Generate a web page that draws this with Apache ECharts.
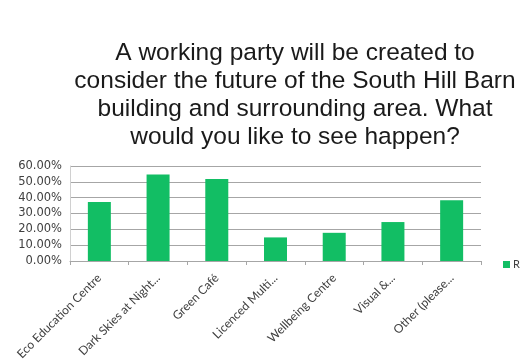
<!DOCTYPE html>
<html>
<head>
<meta charset="utf-8">
<script src="https://cdn.jsdelivr.net/npm/echarts@6/dist/echarts.min.js"></script>
<style>
  html, body { margin: 0; padding: 0; background: #fff; }
  #chart { width: 520px; height: 364px; }
</style>
</head>
<body>
<div id="chart"></div>
<script>
// Survey answers and share of respondents choosing each option (%)
const categories = [
  'Eco Education Centre',
  'Dark Skies at Night...',
  'Green Café',
  'Licenced Multi...',
  'Wellbeing Centre',
  'Visual &...',
  'Other (please...'
];
const responses = [37.3, 54.6, 51.8, 14.9, 17.8, 24.6, 38.4];
const seriesName = 'Responses';
const titleLines = [
  'A working party will be created to',
  'consider the future of the South Hill Barn',
  'building and surrounding area. What',
  'would you like to see happen?'
];

const chart = echarts.init(document.getElementById('chart'), null, { renderer: 'canvas' });
chart.setOption({
  backgroundColor: '#ffffff',
  animation: false,
  title: {
    text: titleLines.join('\n'),
    left: 290,
    top: 34,
    textAlign: 'center',
    textStyle: {
      fontFamily: 'Liberation Sans',
      fontWeight: 'normal',
      fontSize: 24.5,
      lineHeight: 28,
      color: '#1a1a1a'
    }
  },
  legend: {
    show: true,
    left: 498,
    top: 254,
    itemWidth: 7,
    itemHeight: 7,
    itemGap: 4,
    icon: 'rect',
    textStyle: { fontFamily: 'Lato', fontSize: 11, color: '#404040', padding: [0, 0, 0, -2] },
    data: [seriesName]
  },
  grid: { left: 70, right: 39, top: 166, bottom: 103, containLabel: false },
  xAxis: {
    type: 'category',
    data: categories,
    axisLine: { lineStyle: { color: '#a6a6a6' } },
    axisTick: { show: true, alignWithLabel: false, length: 4, lineStyle: { color: '#a6a6a6' } },
    axisLabel: {
      rotate: 45,
      interval: 0,
      margin: 15,
      fontFamily: 'Lato',
      fontSize: 12,
      color: '#404040'
    }
  },
  yAxis: {
    type: 'value',
    min: 0,
    max: 60,
    interval: 10,
    axisLine: { show: true, lineStyle: { color: '#d0d0d0' } },
    axisTick: { show: false },
    splitLine: { lineStyle: { color: '#a6a6a6', width: 1 } },
    axisLabel: {
      formatter: v => v.toFixed(2) + '%',
      margin: 8,
      fontFamily: 'DejaVu Sans',
      fontSize: 11.5,
      color: '#404040'
    }
  },
  series: [{
    name: seriesName,
    type: 'bar',
    data: responses,
    barWidth: 23,
    itemStyle: { color: '#12BE64' }
  }]
});
</script>
</body>
</html>
